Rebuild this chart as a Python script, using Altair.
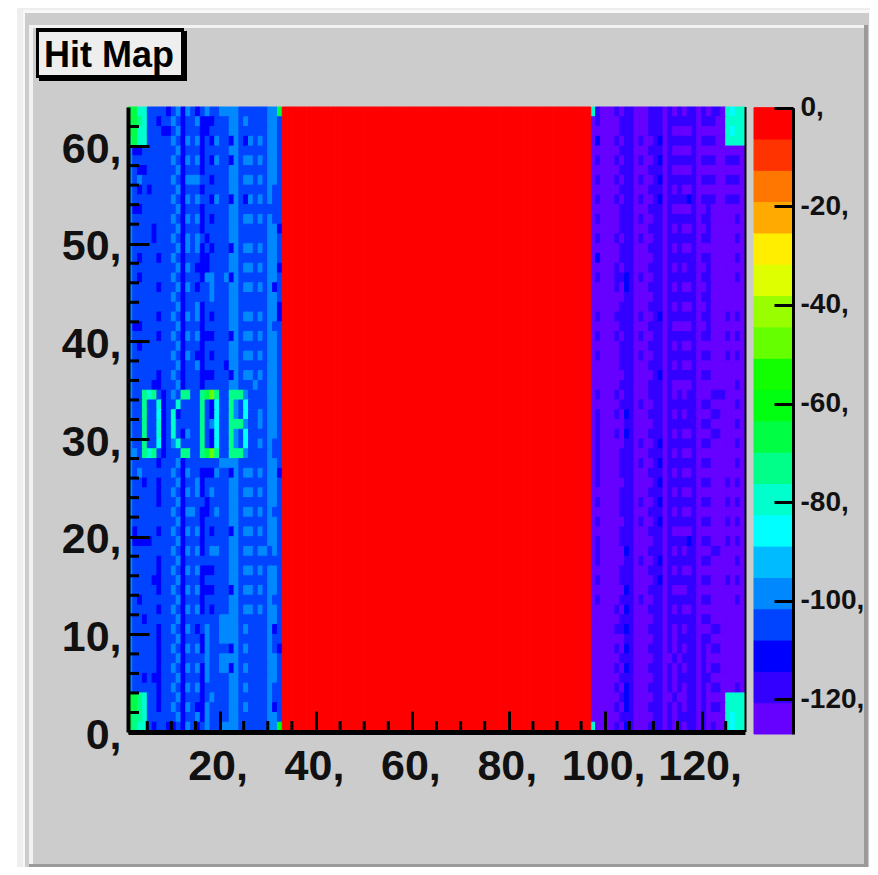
import altair as alt

PALETTE = ["#6600ff", "#3300ff", "#0000ff", "#0044ff", "#0088ff", "#00bbff", "#00ffff", "#00ffcc",
           "#00ff88", "#00ff44", "#00ff11", "#11ff00", "#66ff00", "#99ff00", "#ddff00", "#ffee00",
           "#ffaa00", "#ff7700", "#ff3300", "#ff0000"]
LEVELS = list(range(20))
BAR_EDGES = [-127, -120.65, -114.3, -107.95, -101.6, -95.25, -88.9, -82.55, -76.2, -69.85, -63.5,
             -57.15, -50.8, -44.45, -38.1, -31.75, -25.4, -19.05, -12.7, -6.35, 0]
X_MAJOR = [20, 40, 60, 80, 100, 120]
X_MINOR = [5, 10, 15, 25, 30, 35, 45, 50, 55, 65, 70, 75, 85, 90, 95, 105, 110, 115, 125]
Y_MAJOR = [0, 10, 20, 30, 40, 50, 60]
Y_MINOR = [2, 4, 6, 8, 12, 14, 16, 18, 22, 24, 26, 28, 32, 34, 36, 38, 42, 44, 46, 48, 52, 54, 56, 58, 62]
Z_MAJOR = [0, -20, -40, -60, -80, -100, -120]

# Colour level per cell, top row first. Columns 1-32.
LEFT_ROWS = [
"99773333 23424323 43344443 33333449", "99873323 34323342 22333443 43333443",
"99773332 23423332 23333443 33333443", "89773333 34324342 32433243 24343443",
"42233333 33423332 33333443 33333443", "43333333 34324342 32433243 44343443",
"43223333 33423332 33333443 33333443", "43433333 34324443 32333443 44343443",
"43232333 33423332 33333443 33333433", "43333333 34324343 32433243 24343433",
"42233333 33423332 33333443 33333333", "43333333 34324342 32333443 44343433",
"43333233 33423332 33333443 33333442", "43333233 34324343 23333443 33333443",
"43333333 33424342 32333243 44343443", "43233323 34323332 23333443 33333443",
"43333333 33424322 23333443 44343442", "43233333 34323332 44334243 33333443",
"43333323 33424323 34333443 44343423", "43333333 34323333 34333443 33333443",
"43333333 33423342 33333443 33333442", "43333323 34324342 32333443 44343442",
"42233333 33423332 33333443 33333433", "43333323 34324342 22333243 44343443",
"43233333 33423332 33333443 33333443", "43333333 34324322 32333443 44343443",
"43333333 33423342 33332443 33333443", "43333323 34323332 22333243 44343443",
"43333223 33423332 33333443 33433443", "43387832 34388338 9C833888 43333443",
"43383372 33733338 32633843 63333443", "43383362 37233338 32633843 63343443",
"43383372 37333338 34633888 43343443", "43383372 37324338 32633843 63333443",
"43383362 34733338 32633843 63343433", "44387832 33388338 9C833888 43333433",
"43333323 33423333 33344443 33333443", "43433333 34324332 22433243 44343442",
"43323323 33423342 33333443 33333443", "43333323 34324342 34333443 44343443",
"43333323 33423333 23333443 33333443", "43333333 34324432 23433443 44343433",
"43333333 33423332 33333443 33333443", "42333323 34324342 32333243 44343443",
"42222333 33423332 33333443 33333443", "43333333 34324342 34433443 44344343",
"43333323 33423333 33333443 33333333", "43333323 34324342 22333443 44343443",
"43333223 33423332 33333443 33333443", "43333323 34324342 22333243 44343443",
"43233333 33423332 33333443 33333433", "43333323 34324342 32333443 44343443",
"43323333 33423333 33344443 33333443", "43333323 34324323 43344443 43333423",
"43333323 33423332 43344443 33333433", "43333323 34324342 43333243 43333432",
"43333323 33423333 43344443 33333443", "43333323 34324342 43344243 43333443",
"43323223 33423332 43333443 33333443", "43333323 34324342 33333443 43333433",
"99873323 33423332 34333443 33333433", "99873323 34324322 43333443 43333423",
"98873333 33423342 43333443 33333443", "98773233 22324323 43344443 3333344A",
]
# Colour level per cell, top row first. Columns 97-128.
RIGHT_ROWS = [
"71000101 10001110 10101101 01107677", "01000011 10001110 11111101 11007777",
"00000011 10001110 10000100 00007677", "02000101 10100120 11111101 11007777",
"00000011 10001110 10000100 00000000", "01000101 10100120 11111101 11001110",
"00000011 10001110 10000100 00000000", "01000101 10100120 11111101 11001110",
"00000011 10001110 10100100 00000000", "01000101 10100120 11112101 11001110",
"00000011 10001110 10000100 10000000", "01000011 10100110 11111101 10000010",
"00000011 10001110 10100100 10000000", "01000101 10100110 11111101 10000010",
"00000011 10001110 10100100 00000000", "02000011 10000110 11111101 10000010",
"00000101 10001110 10101100 10000000", "01000112 10100110 11111101 10000010",
"00000102 10001110 10100100 10000000", "00000001 10000110 11111101 10000000",
"00000011 10001110 10100100 10000000", "01000111 10100120 11111101 10001010",
"00000011 10001110 10000100 10000000", "01000101 10100110 11111101 10001010",
"00000011 10001110 10100100 00000000", "01000011 10100110 11111101 10001010",
"00000011 10001110 10100100 00000000", "00000001 10000120 11111101 10000000",
"00000011 10001110 10000100 00000010", "01000101 10001110 10101100 01110000",
"00000011 10100110 11111101 10000010", "01000102 10001110 10101100 01100000",
"01000001 10000110 11111101 10000010", "01000102 10001110 10100100 01100000",
"01000001 10100120 11111101 10000010", "01000011 10001110 10100100 00000000",
"01000011 10100120 11111101 10000010", "01000011 10001110 10100100 00000000",
"01000001 10000120 11111101 10001010", "00000011 10001110 10100100 00000000",
"01000011 10100120 11111101 10001010", "00000011 10001110 10100100 00000000",
"01000001 10100120 11111101 10001010", "00000011 10001110 10000100 00000000",
"01000011 10000110 11112101 10001010", "01000002 10001110 10101100 01100000",
"01000001 10100120 11111101 10000010", "00000011 10001110 10100100 00000000",
"01000011 10000120 11111101 10001010", "00000002 10001110 10001100 00000000",
"01000011 10100110 11111101 10000010", "00000102 10001110 10100100 00000000",
"00000011 10000110 11111101 10000000", "00000112 10001110 10101100 01100000",
"00000001 10000110 10111101 10000000", "00000102 10001110 10101101 01100000",
"00000011 10000110 01011101 00000000", "00000102 10001110 10101101 01100000",
"00000011 10000110 10111101 10000000", "00000102 10001110 10101101 01100010",
"00000012 10000110 01001101 00007777", "00000102 10001110 10101101 01107777",
"00000011 10000110 10111101 00007677", "70000102 10001110 10101101 01007677",
]
RED_LEVEL = 19

# everything is positioned in page pixels, less the 8px body margin
W, H = 862, 859
def px(v):
    return v - 8

X_SCALE = alt.Scale(domain=[1, 129], range=[px(128), px(745)], nice=False, zero=False)
Y_SCALE = alt.Scale(domain=[0, 64], range=[px(732), px(107)], nice=False, zero=False)
Z_SCALE = alt.Scale(domain=[-127, 0], range=[px(734), px(107.7)], nice=False, zero=False)
FONT = "Liberation Sans"

cells = []
for rows, first in ((LEFT_ROWS, 1), (RIGHT_ROWS, 97)):
    for r, row in enumerate(rows):
        for c, ch in enumerate(row.replace(" ", "")):
            cells.append({"x": first + c, "x2": first + c + 1, "y": 63 - r, "y2": 64 - r, "level": int(ch, 16)})
for c in range(33, 97):
    cells.append({"x": c, "x2": c + 1, "y": 0, "y2": 64, "level": RED_LEVEL})

colour = alt.Color("level:N", scale=alt.Scale(domain=LEVELS, range=PALETTE), legend=None)
stroke = alt.Stroke("level:N", scale=alt.Scale(domain=LEVELS, range=PALETTE), legend=None)


def box(x0, x1, y0, y1, fill):
    return alt.Chart(alt.Data(values=[{"k": 0}])).mark_rect(color=fill).encode(
        x=alt.value(px(x0)), x2=alt.value(px(x1)), y=alt.value(px(y0)), y2=alt.value(px(y1)))


frame = [
    box(17, 870, 8, 867, "#eeeeee"),
    box(23, 870, 10, 867, "#f8f8f8"),
    box(25, 869, 13, 867, "#cccccc"),
    box(29, 866, 25, 867, "#f2f2f2"),
    box(33, 864, 28, 864, "#cccccc"),
    box(864, 868, 25, 867, "#9a9a9a"),
    box(29, 868, 864, 867, "#9a9a9a"),
]
title_box = [
    box(39, 187, 31, 81, "#000000"),
    box(36, 184, 28, 78, "#000000"),
    box(39, 181, 32, 75, "#eeeeee"),
    alt.Chart(alt.Data(values=[{"t": "Hit Map"}])).mark_text(
        font=FONT, fontWeight="bold", fontSize=36, align="left", baseline="alphabetic", color="#000000"
    ).encode(x=alt.value(px(44)), y=alt.value(px(67)), text="t:N"),
]

heat = alt.Chart(alt.Data(values=cells)).mark_rect(strokeWidth=1).encode(
    x=alt.X("x:Q", scale=X_SCALE, axis=None),
    x2="x2:Q",
    y=alt.Y("y:Q", scale=Y_SCALE, axis=None),
    y2="y2:Q",
    color=colour,
    stroke=stroke,
)

right_edge = alt.Chart(alt.Data(values=[{"k": 0}])).mark_rule(color="#000000", strokeWidth=2).encode(
    x=alt.value(px(745.5)), y=alt.value(px(107)), y2=alt.value(px(732)))

x_minor = alt.Chart(alt.Data(values=[{"v": v} for v in X_MINOR])).mark_rule(color="#000000", strokeWidth=3).encode(
    x=alt.X("v:Q", scale=X_SCALE, axis=None), y=alt.value(px(721)), y2=alt.value(px(732)))
y_minor = alt.Chart(alt.Data(values=[{"v": v} for v in Y_MINOR])).mark_rule(color="#000000", strokeWidth=3).encode(
    y=alt.Y("v:Q", scale=Y_SCALE, axis=None), x=alt.value(px(128)), x2=alt.value(px(139)))

x_axis = alt.Chart(alt.Data(values=[{"v": v} for v in X_MAJOR])).mark_point(opacity=0).encode(
    x=alt.X("v:Q", scale=X_SCALE, axis=alt.Axis(
        orient="top", offset=-px(732), values=X_MAJOR, title=None, grid=False, format="d",
        labelExpr="datum.value + ','", labelFont=FONT, labelFontWeight="bold", labelFontSize=43,
        labelColor="#111111", labelAlign="center", labelBaseline="top", labelPadding=-34, labelOffset=-2,
        labelOverlap=False, labelFlush=False, tickSize=21, tickWidth=3, tickColor="#000000",
        domainColor="#000000", domainWidth=5, zindex=2)),
    y=alt.value(px(732)),
)
y_axis = alt.Chart(alt.Data(values=[{"v": v} for v in Y_MAJOR])).mark_point(opacity=0).encode(
    y=alt.Y("v:Q", scale=Y_SCALE, axis=alt.Axis(
        orient="right", offset=-(W - px(128)), values=Y_MAJOR, title=None, grid=False, format="d",
        labelExpr="datum.value + ','", labelFont=FONT, labelFontWeight="bold", labelFontSize=43,
        labelColor="#111111", labelAlign="right", labelBaseline="middle", labelPadding=-28, labelOffset=3,
        labelOverlap=False, labelFlush=False, tickSize=21, tickWidth=3, tickColor="#000000",
        domainColor="#000000", domainWidth=4, zindex=2)),
    x=alt.value(px(128)),
)

bar_rows = [{"lo": BAR_EDGES[i], "hi": BAR_EDGES[i + 1], "level": i} for i in range(20)]
bar = alt.Chart(alt.Data(values=bar_rows)).mark_rect(strokeWidth=1).encode(
    x=alt.value(px(754)), x2=alt.value(px(793)),
    y=alt.Y("lo:Q", scale=Z_SCALE, axis=None), y2="hi:Q",
    color=colour, stroke=stroke,
)
z_axis = alt.Chart(alt.Data(values=[{"v": v} for v in Z_MAJOR])).mark_point(opacity=0).encode(
    y=alt.Y("v:Q", scale=Z_SCALE, axis=alt.Axis(
        orient="left", offset=-px(793), values=Z_MAJOR, title=None, grid=False, format="d",
        labelExpr="datum.value + ','", labelFont=FONT, labelFontWeight="bold", labelFontSize=28,
        labelColor="#111111", labelAlign="left", labelBaseline="middle", labelPadding=-26,
        labelOverlap=False, labelFlush=False, tickSize=19, tickWidth=3, tickColor="#000000",
        domainColor="#000000", domainWidth=3, zindex=2)),
    x=alt.value(px(793)),
)

chart = alt.layer(
    *frame, *title_box, heat, bar, right_edge, x_minor, y_minor, x_axis, y_axis, z_axis
).resolve_scale(y="independent", color="shared", stroke="shared").resolve_axis(x="independent").properties(
    width=W, height=H, padding=0, background="#ffffff",
    autosize=alt.AutoSizeParams(type="none"),
).configure_view(stroke=None)

chart.save("out.html", embed_options={"renderer": "svg", "actions": False})
